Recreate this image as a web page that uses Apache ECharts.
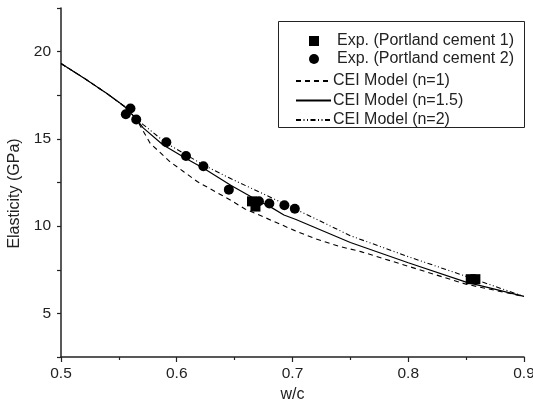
<!DOCTYPE html>
<html>
<head>
<meta charset="utf-8">
<script src="https://cdn.jsdelivr.net/npm/echarts@6/dist/echarts.min.js"></script>
<style>html,body{margin:0;padding:0;background:#fff}#c{width:533px;height:399px}</style>
</head>
<body>
<div id="c"></div>
<script>
// Data
const seriesNames = ['Exp. (Portland cement 1)', 'Exp. (Portland cement 2)', 'CEI Model (n=1)', 'CEI Model (n=1.5)', 'CEI Model (n=2)'];
const expCement1 = [[0.665, 11.42], [0.668, 11.12], [0.854, 6.96], [0.858, 6.96]];
const expCement2 = [[0.556, 16.41], [0.560, 16.74], [0.565, 16.11], [0.591, 14.81], [0.608, 14.02], [0.623, 13.43], [0.645, 12.09], [0.671, 11.43], [0.680, 11.30], [0.693, 11.20], [0.702, 11.00]];
const modelN1 = [[0.5, 19.32], [0.52, 18.48], [0.54, 17.58], [0.555, 16.85], [0.565, 16.15], [0.577, 14.75], [0.594, 13.70], [0.606, 13.12], [0.618, 12.54], [0.647, 11.47], [0.659, 10.98], [0.676, 10.50], [0.70, 9.80], [0.718, 9.32], [0.741, 8.83], [0.759, 8.54], [0.80, 7.70], [0.85, 6.67], [0.90, 5.97]];
const modelN15 = [[0.5, 19.32], [0.52, 18.48], [0.54, 17.58], [0.555, 16.85], [0.565, 16.15], [0.571, 15.63], [0.588, 14.66], [0.608, 13.88], [0.6235, 13.30], [0.647, 12.33], [0.665, 11.65], [0.682, 11.06], [0.6926, 10.64], [0.703, 10.38], [0.75, 9.06], [0.80, 7.90], [0.85, 6.79], [0.90, 5.97]];
const modelN2 = [[0.5, 19.32], [0.52, 18.48], [0.54, 17.58], [0.555, 16.85], [0.565, 16.15], [0.571, 15.82], [0.591, 14.75], [0.6235, 13.49], [0.647, 12.71], [0.6676, 12.07], [0.70, 11.06], [0.75, 9.45], [0.80, 8.25], [0.85, 7.12], [0.90, 5.97]];
const xTicks = { min: 0.5, max: 0.9, interval: 0.1 };
const yTicks = { min: 2.5, max: 22.5, interval: 2.5, labelEvery: 5 };

const font = "'Liberation Sans', Arial, sans-serif";
const chart = echarts.init(document.getElementById('c'));
chart.setOption({
  animation: false,
  backgroundColor: '#fff',
  grid: { left: 61, right: 9, top: 8, bottom: 42, outerBoundsMode: 'none', containLabel: false },
  xAxis: {
    type: 'value', min: xTicks.min, max: xTicks.max, interval: xTicks.interval,
    name: 'w/c', nameLocation: 'middle', nameGap: 26,
    nameTextStyle: { fontFamily: font, fontSize: 16, color: '#222' },
    axisLine: { lineStyle: { color: '#222', width: 1.5 } },
    axisTick: { length: 5, lineStyle: { color: '#222', width: 1.2 } },
    minorTick: { show: true, splitNumber: 2, length: 3, lineStyle: { color: '#222', width: 1.2 } },
    axisLabel: { fontFamily: font, fontSize: 15.5, color: '#222', margin: 9, formatter: v => v.toFixed(1) },
    splitLine: { show: false }
  },
  yAxis: {
    type: 'value', min: yTicks.min, max: yTicks.max, interval: yTicks.interval,
    name: 'Elasticity (GPa)', nameLocation: 'middle', nameGap: 36,
    nameTextStyle: { fontFamily: font, fontSize: 16, color: '#222', padding: [0, 22, 0, 0] },
    axisLine: { show: true, lineStyle: { color: '#222', width: 1.5 } },
    axisTick: { length: 4, lineStyle: { color: '#222', width: 1.2 } },
    axisLabel: { fontFamily: font, fontSize: 15.5, color: '#222', margin: 10,
      formatter: v => (Math.abs(v % yTicks.labelEvery) < 1e-9 ? String(v) : '') },
    splitLine: { show: false }
  },
  graphic: [{ type: 'rect', left: 278, top: 21, z: -1, shape: { width: 246, height: 106 },
    style: { fill: '#fff', stroke: '#222', lineWidth: 1 } }],
  legend: [
    { data: [seriesNames[0], seriesNames[1]], orient: 'vertical', left: 304, top: 28,
      itemWidth: 10, itemHeight: 10, itemGap: 2,
      textStyle: { fontFamily: font, fontSize: 16, color: '#222', padding: [0, 0, 0, 13] } },
    { data: [seriesNames[2], seriesNames[3], seriesNames[4]], orient: 'vertical', left: 290, top: 68,
      itemWidth: 35, itemHeight: 14, itemGap: 3.5,
      itemStyle: { opacity: 0 },
      textStyle: { fontFamily: font, fontSize: 16, color: '#222', padding: [0, 0, 0, -3] } }
  ],
  series: [
    { name: seriesNames[0], type: 'scatter', data: expCement1, symbol: 'rect', symbolSize: 10, itemStyle: { color: '#000', opacity: 1 }, z: 5 },
    { name: seriesNames[1], type: 'scatter', data: expCement2, symbol: 'circle', symbolSize: 10, itemStyle: { color: '#000', opacity: 1 }, z: 5 },
    { name: seriesNames[2], type: 'line', data: modelN1, showSymbol: false, symbol: 'none', itemStyle: { color: '#000' }, lineStyle: { color: '#000', width: 1.1, type: [5, 4] } },
    { name: seriesNames[3], type: 'line', data: modelN15, showSymbol: false, symbol: 'none', itemStyle: { color: '#000' }, lineStyle: { color: '#000', width: 1.2, type: 'solid' } },
    { name: seriesNames[4], type: 'line', data: modelN2, showSymbol: false, symbol: 'none', itemStyle: { color: '#000' }, lineStyle: { color: '#000', width: 1.1, type: [5, 2.5, 1, 2.5, 1, 2.5] } }
  ]
});
</script>
</body>
</html>
